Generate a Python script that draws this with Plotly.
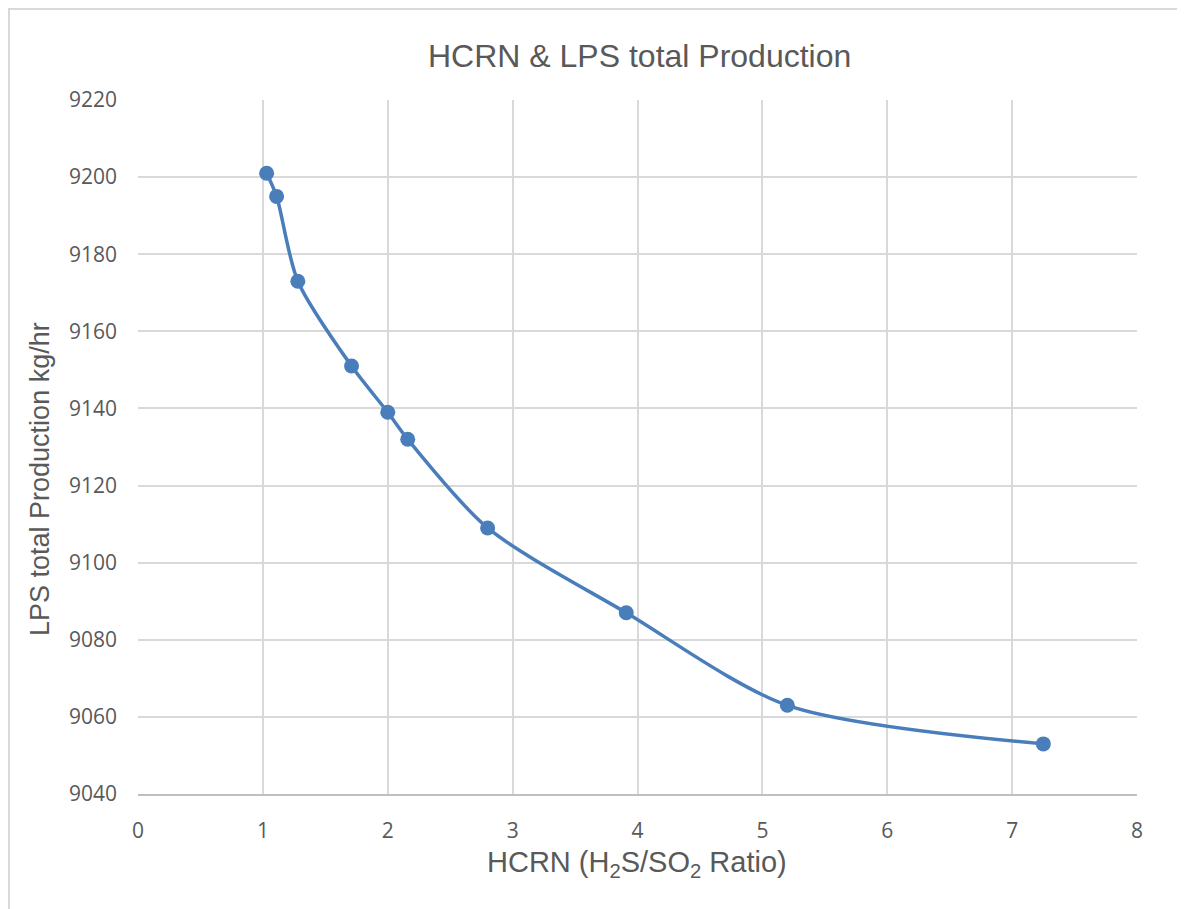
import plotly.graph_objects as go

# Data
hcrn_ratio = [1.03, 1.11, 1.28, 1.71, 2.00, 2.16, 2.80, 3.91, 5.20, 7.25]
lps_production = [9201, 9195, 9173, 9151, 9139, 9132, 9109, 9087, 9063, 9053]

chart_title = "HCRN &amp; LPS total Production"
x_title = "HCRN (H<sub>2</sub>S/SO<sub>2</sub> Ratio)"
y_title = "LPS total Production kg/hr"

W, H = 1185, 909
OFF = 8  # page body margin
# plot area in reference (screen) pixels
L, R, T, B = 138, 1137, 100, 794
PW, PH = R - L, B - T

def px_to_paper_x(px):
    return (px - L) / PW

def px_to_paper_y(py):
    return (B - py) / PH

blue = "#4a7ebb"
grey_text = "#595959"
grid = "#d9d9d9"

fig = go.Figure()
fig.add_trace(go.Scatter(
    x=hcrn_ratio, y=lps_production,
    mode="lines+markers",
    line=dict(color=blue, width=3.5, shape="spline", smoothing=0.8),
    marker=dict(color=blue, size=15),
    showlegend=False,
))

fig.update_layout(
    width=W, height=H,
    margin=dict(l=L - OFF, r=W - (R - OFF), t=T - OFF, b=H - (B - OFF)),
    paper_bgcolor="white", plot_bgcolor="white",
    font=dict(family="Open Sans", color=grey_text),
    xaxis=dict(
        range=[0, 8], dtick=1, tick0=0,
        showgrid=True, gridcolor=grid, gridwidth=1.5,
        zeroline=False, showline=True, linecolor="#bfbfbf", linewidth=1.5,
        tickfont=dict(family="Open Sans", size=21, color=grey_text),
        ticks="", ticklabelstandoff=17,
    ),
    yaxis=dict(
        range=[9040, 9220], dtick=20, tick0=9040,
        showgrid=True, gridcolor=grid, gridwidth=1.5,
        zeroline=False, showline=False,
        tickfont=dict(family="Open Sans", size=21, color=grey_text),
        ticks="", ticklabelstandoff=20,
    ),
    annotations=[
        dict(text=chart_title, xref="paper", yref="paper",
             x=px_to_paper_x(639.5), y=px_to_paper_y(56),
             xanchor="center", yanchor="middle", showarrow=False,
             font=dict(family="Liberation Sans", size=32, color=grey_text)),
        dict(text=x_title, xref="paper", yref="paper",
             x=px_to_paper_x(636.5), y=px_to_paper_y(864),
             xanchor="center", yanchor="middle", showarrow=False,
             font=dict(family="Liberation Sans", size=29, color=grey_text)),
        dict(text=y_title, xref="paper", yref="paper", textangle=-90,
             x=px_to_paper_x(40), y=px_to_paper_y(479),
             xanchor="center", yanchor="middle", showarrow=False,
             font=dict(family="Liberation Sans", size=27, color=grey_text)),
    ],
    shapes=[
        dict(type="rect", xref="paper", yref="paper",
             x0=px_to_paper_x(9), y0=px_to_paper_y(940),
             x1=px_to_paper_x(1220), y1=px_to_paper_y(9),
             line=dict(color=grid, width=2), fillcolor="rgba(0,0,0,0)",
             layer="below"),
    ],
)

fig.write_html("out.html")
